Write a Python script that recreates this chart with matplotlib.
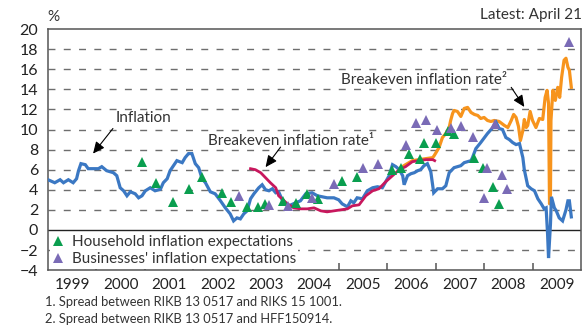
import matplotlib
matplotlib.use("Agg")
import matplotlib.pyplot as plt
from matplotlib.lines import Line2D

plt.rcParams['font.family'] = ['Lato', 'DejaVu Sans']

# Inflation (decimal year, %)
infl_t = [1999.00, 1999.14, 1999.25, 1999.32, 1999.42, 1999.52, 1999.59, 1999.63, 1999.68,
          1999.77, 1999.83, 2000.04, 2000.11, 2000.21, 2000.35, 2000.42, 2000.49, 2000.56,
          2000.63, 2000.70, 2000.80, 2000.87, 2000.94, 2001.01, 2001.11, 2001.21, 2001.32,
          2001.38, 2001.46, 2001.52, 2001.59, 2001.66, 2001.77, 2001.83, 2001.90, 2001.97,
          2002.04, 2002.11, 2002.18, 2002.25, 2002.35, 2002.45, 2002.56, 2002.66, 2002.76,
          2002.83, 2002.90, 2002.97, 2003.04, 2003.11, 2003.18, 2003.25, 2003.35, 2003.42,
          2003.49, 2003.56, 2003.63, 2003.70, 2003.76, 2003.87, 2003.97, 2004.11, 2004.21,
          2004.32, 2004.45, 2004.56, 2004.66, 2004.76, 2004.90, 2005.00, 2005.07, 2005.18,
          2005.25, 2005.31, 2005.38, 2005.49, 2005.59, 2005.70, 2005.80, 2005.90, 2005.97,
          2006.04, 2006.11, 2006.18, 2006.25, 2006.32, 2006.35, 2006.42, 2006.49, 2006.56,
          2006.63, 2006.69, 2006.76, 2006.83, 2006.90, 2006.96, 2007.04, 2007.14, 2007.21,
          2007.28, 2007.38, 2007.52, 2007.59, 2007.73, 2007.76, 2007.83, 2007.93, 2008.07,
          2008.18, 2008.25, 2008.31, 2008.38, 2008.45, 2008.52, 2008.59, 2008.66, 2008.73,
          2008.80, 2008.83, 2008.90, 2008.97, 2009.04, 2009.11, 2009.18, 2009.24, 2009.28,
          2009.31, 2009.33, 2009.37, 2009.39, 2009.45, 2009.49, 2009.55, 2009.62, 2009.69,
          2009.73, 2009.76, 2009.80]
infl_v = [5.0, 4.7, 5.0, 4.7, 5.0, 4.7, 5.1, 5.9, 6.6,
          6.5, 6.1, 6.1, 6.3, 5.9, 5.7, 5.4, 4.2, 3.9,
          3.4, 3.8, 3.6, 3.2, 3.4, 3.9, 4.2, 3.9, 4.05,
          4.7, 5.1, 5.9, 6.4, 6.9, 6.7, 7.2, 7.6, 7.6,
          6.6, 6.2, 5.1, 4.7, 3.8, 3.6, 2.9, 2.2, 1.6,
          0.9, 1.2, 1.1, 1.6, 1.9, 3.1, 3.6, 4.2, 4.5,
          4.0, 3.9, 4.1, 3.7, 3.8, 2.6, 2.4, 2.7, 2.9,
          3.6, 3.7, 3.4, 3.3, 3.2, 3.2, 3.0, 2.6, 2.3,
          2.9, 2.7, 3.2, 3.1, 3.9, 4.2, 4.3, 4.2, 4.8,
          5.4, 6.5, 6.3, 6.0, 5.4, 4.5, 5.4, 5.6, 5.7,
          5.9, 6.0, 6.4, 6.6, 5.8, 3.7, 4.1, 4.1, 4.4,
          5.7, 6.2, 6.4, 6.7, 6.9, 7.2, 8.1, 8.7, 9.6,
          10.2, 10.7, 10.1, 10.0, 9.2, 9.0, 8.7, 8.5, 8.6,
          7.2, 6.0, 4.4, 4.1, 3.9, 3.1, 2.6, 2.1, 2.2,
          -0.4, -2.8, 0.6, 3.3, 2.2, 1.9, 1.2, 0.9, 2.0,
          2.9, 2.9, 1.3]

# Breakeven inflation rate 1 (RIKB 13 0517 vs RIKS 15 1001)
be1_t = [2003.18, 2003.28, 2003.39, 2003.49, 2003.59, 2003.70, 2003.76, 2003.83, 2003.94,
         2004.07, 2004.21, 2004.35, 2004.49, 2004.63, 2004.76, 2004.90, 2005.04, 2005.18,
         2005.28, 2005.42, 2005.56, 2005.70, 2005.83, 2005.97, 2006.11, 2006.25, 2006.38,
         2006.52, 2006.66, 2006.80, 2006.94, 2006.98]
be1_v = [6.1, 6.0, 5.7, 5.2, 4.7, 4.2, 3.4, 3.1, 2.6,
         2.2, 2.1, 2.1, 2.2, 1.9, 1.8, 1.9, 2.0, 2.1,
         2.4, 2.5, 3.4, 3.9, 4.1, 4.8, 5.4, 6.0, 6.3,
         6.8, 6.9, 7.0, 7.0, 6.9]

# Breakeven inflation rate 2 (RIKB 13 0517 vs HFF150914)
be2_t = [2006.28, 2006.38, 2006.52, 2006.66, 2006.80, 2006.94, 2006.97, 2007.07, 2007.14,
         2007.21, 2007.28, 2007.31, 2007.35, 2007.38, 2007.45, 2007.52, 2007.59, 2007.66,
         2007.73, 2007.80, 2007.87, 2007.93, 2008.00, 2008.07, 2008.14, 2008.21, 2008.31,
         2008.42, 2008.49, 2008.56, 2008.61, 2008.66, 2008.71, 2008.75, 2008.80, 2008.83,
         2008.87, 2008.90, 2008.95, 2009.00, 2009.07, 2009.14, 2009.21, 2009.26, 2009.30,
         2009.33, 2009.35, 2009.37, 2009.38, 2009.42, 2009.47, 2009.52, 2009.56, 2009.60,
         2009.65, 2009.69, 2009.73, 2009.76, 2009.80]
be2_v = [6.2, 6.5, 6.9, 7.0, 7.1, 7.2, 7.4, 8.2, 9.2,
         9.6, 10.2, 10.9, 11.6, 11.9, 11.8, 11.3, 12.1, 12.2,
         11.7, 11.5, 11.4, 11.1, 11.2, 10.9, 10.8, 10.9, 10.8,
         10.4, 10.2, 10.9, 11.5, 11.2, 10.3, 8.9, 9.9, 11.0,
         10.2, 10.4, 11.8, 10.9, 10.2, 11.1, 11.0, 13.2, 13.9,
         12.6, 2.6, 3.6, 10.9, 13.9, 12.9, 14.2, 13.2, 15.2,
         16.9, 17.1, 16.2, 15.9, 14.2]

# Survey expectations
hh_t = [2000.94, 2001.23, 2001.59, 2001.92, 2002.18, 2002.59, 2002.78, 2003.10, 2003.33,
        2003.47, 2003.85, 2004.11, 2004.35, 2004.57, 2005.07, 2005.38, 2006.09, 2006.29,
        2006.45, 2006.68, 2006.76, 2007.01, 2007.25, 2007.38, 2007.79, 2007.97, 2008.19,
        2008.30]
hh_v = [6.8, 4.7, 2.8, 4.1, 5.3, 3.7, 2.8, 2.3, 2.3,
        2.6, 2.9, 2.7, 3.6, 3.1, 4.9, 5.3, 6.0, 6.2,
        7.6, 7.1, 8.7, 8.7, 9.9, 9.6, 7.2, 6.2, 4.3,
        2.6]
bus_t = [2002.94, 2003.57, 2003.95, 2004.45, 2004.90, 2005.50, 2005.81, 2006.38, 2006.59,
         2006.80, 2007.02, 2007.32, 2007.53, 2007.78, 2008.00, 2008.06, 2008.22, 2008.37,
         2008.47, 2009.75]
bus_v = [3.4, 2.5, 2.4, 3.2, 4.55, 6.2, 6.6, 8.45, 10.6,
         10.9, 9.95, 10.15, 10.4, 9.3, 3.2, 6.2, 10.55, 5.45,
         4.1, 18.7]

years = list(range(1999, 2010))
yticks = list(range(-4, 21, 2))

BLUE = '#3b78c3'
ORANGE = '#f7941d'
MAGENTA = '#c8175d'
GREEN = '#0a9e4f'
PURPLE = '#7a6bb6'
TXT = '#333333'

fig = plt.figure(figsize=(5.88, 3.27), dpi=100)
ax = fig.add_axes([0.0816, 0.174, 0.9065, 0.737])

ax.set_xlim(1999, 2010)
ax.set_ylim(-4, 20)

# dashed gridlines, solid zero line
for y in yticks:
    if y in (-4, 0, 20):
        continue
    ax.axhline(y, color='#6e6e6e', lw=1.0, dashes=(5.0, 6.0), zorder=1)
ax.axhline(0, color='#222222', lw=1.0, zorder=2)

ax.plot(infl_t, infl_v, color=BLUE, lw=2.3, zorder=4, solid_joinstyle='miter')
ax.plot(be2_t, be2_v, color=ORANGE, lw=2.3, zorder=3)
ax.plot(be1_t, be1_v, color=MAGENTA, lw=2.0, zorder=5)
ax.plot(hh_t, hh_v, ls='none', marker='^', ms=7.5, color=GREEN, mew=0, zorder=6)
ax.plot(bus_t, bus_v, ls='none', marker='^', ms=7.5, color=PURPLE, mew=0, zorder=6)

# axes styling
for s in ax.spines.values():
    s.set_color('#555555')
    s.set_linewidth(1.1)
ax.set_yticks(yticks)
ax.tick_params(axis='y', length=0, pad=7, labelsize=11.5, labelcolor='#222222')
ax.set_xticks(years[1:])
ax.set_xticklabels([])
ax.set_xticks([y + 0.5 for y in years], minor=True)
ax.set_xticklabels([str(y) for y in years], minor=True)
ax.tick_params(axis='x', which='major', direction='in', length=5, width=1.1, color='#555555')
ax.tick_params(axis='x', which='minor', length=0, pad=6, labelsize=11, labelcolor='#222222')

# labels and arrows
arrow = dict(arrowstyle='-|>,head_length=0.7,head_width=0.32', color='black', lw=0.8,
             shrinkA=0, shrinkB=0)
ax.text(2000.39, 11.1, 'Inflation', fontsize=11, color=TXT, ha='left', va='center')
ax.annotate('', xy=(1999.93, 7.6), xytext=(2000.34, 10.1), arrowprops=arrow)
ax.text(2002.31, 8.9, 'Breakeven inflation rate¹', fontsize=11, color=TXT,
        ha='left', va='center')
ax.annotate('', xy=(2003.49, 6.25), xytext=(2003.80, 8.25), arrowprops=arrow)
ax.text(2005.04, 14.9, 'Breakeven inflation rate²', fontsize=11, color=TXT,
        ha='left', va='center')
ax.annotate('', xy=(2008.83, 12.25), xytext=(2008.56, 14.2), arrowprops=arrow)

handles = [Line2D([], [], ls='none', marker='^', ms=7, color=GREEN, mew=0),
           Line2D([], [], ls='none', marker='^', ms=7, color=PURPLE, mew=0)]
leg = ax.legend(handles, ['Household inflation expectations',
                          "Businesses' inflation expectations"],
                loc='lower left', fontsize=11, frameon=True, facecolor='white',
                edgecolor='none', framealpha=1, fancybox=False, handlelength=0.8,
                handletextpad=0.5, labelspacing=0.2, borderpad=0.15,
                borderaxespad=0.1, labelcolor=TXT)
leg.set_zorder(7)

fig.text(0.08, 0.948, '%', fontsize=11, color=TXT, ha='left', va='center')
fig.text(0.99, 0.955, 'Latest: April 21', fontsize=11, color=TXT, ha='right', va='center')
fig.text(0.077, 0.076, '1. Spread between RIKB 13 0517 and RIKS 15 1001.', fontsize=9.3,
         color=TXT, ha='left', va='center')
fig.text(0.077, 0.024, '2. Spread between RIKB 13 0517 and HFF150914.', fontsize=9.3,
         color=TXT, ha='left', va='center')

fig.savefig('out.png', dpi=100)
